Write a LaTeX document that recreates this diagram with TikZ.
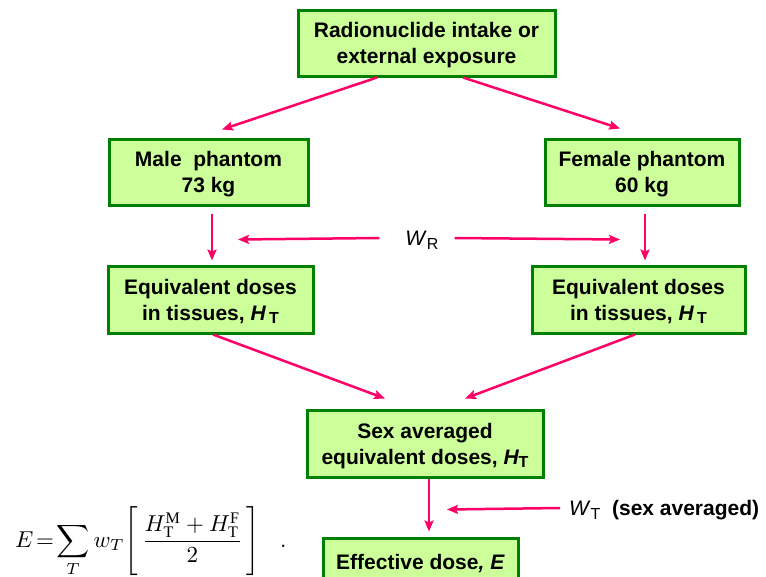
\documentclass[tikz,border=0pt]{standalone}
\usepackage{fontspec}
\setmainfont{Liberation Serif}
\newfontfamily\arial{Liberation Sans}
\usetikzlibrary{arrows.meta,calc}
\definecolor{boxgreen}{RGB}{0,128,0}
\definecolor{boxfill}{RGB}{204,255,153}
\definecolor{arrpink}{RGB}{255,0,102}
\newcommand{\subT}{\raisebox{-0.35ex}{\fontsize{16}{16}\selectfont T}}
\begin{document}
\begin{tikzpicture}[x=1pt,y=-1pt,
  box/.style={draw=boxgreen, fill=boxfill, line width=3pt, inner sep=0pt, align=center, text depth=0pt,
    font=\arial\bfseries\fontsize{21}{26}\selectfont},
  arr/.style={draw=arrpink, line width=2.5pt, -{Stealth[length=11pt,width=9pt,inset=2pt]}},
  lbl/.style={inner sep=0pt, font=\arial\fontsize{21}{26}\selectfont}
]
\useasboundingbox (0,0) rectangle (766,576);
\clip (0,0) rectangle (766,576);

\node[box, minimum width=257pt, minimum height=66pt] (top) at (426.5,43) {Radionuclide intake or\\external exposure};
\node[box, minimum width=199pt, minimum height=66pt] (male) at (208.5,172) {Male\ \ phantom\\73 kg};
\node[box, minimum width=194pt, minimum height=66pt] (female) at (642,172) {Female phantom\\60 kg};
\node[box, minimum width=205pt, minimum height=67pt] (eqL) at (210.5,299.5) {Equivalent doses\\in tissues, {\itshape H}\,\subT};
\node[box, minimum width=213pt, minimum height=67pt] (eqR) at (638.5,299.5) {Equivalent doses\\in tissues, {\itshape H}\,\subT};
\node[box, minimum width=236pt, minimum height=67pt] (sex) at (425,443.5) {Sex averaged\\equivalent doses, {\itshape H}\subT};
\node[box, minimum width=195pt, minimum height=48pt] (eff) at (420.5,562) {Effective dose\textit{, E}};

\node[lbl] (wr) at (422,240) {\textit{W}\raisebox{-0.35ex}{\fontsize{16}{16}\selectfont R}};
\node[lbl, anchor=west] (wt) at (569,510) {\textit{W}\raisebox{-0.35ex}{\fontsize{16}{16}\selectfont T}\ \ \textbf{(sex averaged)}};

\node[anchor=base west, inner sep=0pt] (formula) at (15,547)
  {\scalebox{2.3}{$\displaystyle E\!=\!\sum_T w_T\!\left[\rule[-13.5pt]{0pt}{32pt}\,\frac{H_{\mathrm T}^{\mathrm M}+H_{\mathrm T}^{\mathrm F}}{2}\,\right]\hspace{7pt}.$}};

\draw[arr] ($(top.south)+(-49.5,0)$) -- ($(male.north)+(13.5,-8)$);
\draw[arr] ($(top.south)+(36.5,0)$) -- ($(female.north)+(-22,-9)$);
\draw[arr] ($(male.south)+(3.5,7)$) -- ($(eqL.north)+(1.5,-4)$);
\draw[arr] ($(female.south)+(3,7)$) -- ($(eqR.north)+(6.5,-4)$);
\draw[arr] ($(wr.west)+(-26,-2)$) -- ($(male.south)+(29.5,33)$);
\draw[arr] ($(wr.east)+(16,-2)$) -- ($(female.south)+(-22,33)$);
\draw[arr] ($(eqL.south)+(2.5,0)$) -- ($(sex.north)+(-40,-10)$);
\draw[arr] ($(eqR.south)+(-3.5,0)$) -- ($(sex.north)+(40,-10)$);
\draw[arr] ($(sex.south)+(4,0)$) -- ($(eff.north)+(8.5,-5)$);
\draw[arr] ($(wt.west)+(-9,-2)$) -- ($(sex.south)+(22,31)$);
\end{tikzpicture}
\end{document}
